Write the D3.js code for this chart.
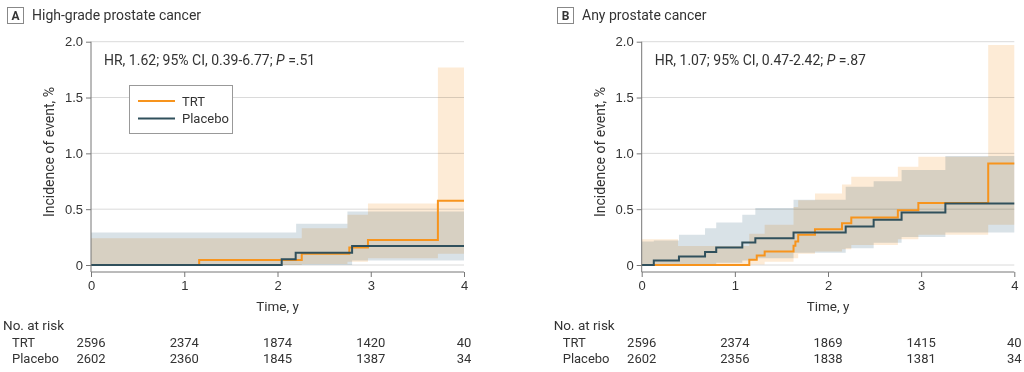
<!DOCTYPE html>
<html>
<head>
<meta charset="utf-8">
<script src="https://cdn.jsdelivr.net/npm/d3@7"></script>
<style>
  body { margin: 0; background: #fff; }
  svg { font-family: Roboto, "Noto Sans", sans-serif; }
  .tick text { fill: #333; font-size: 13px; }
  .tick line { stroke: #777; }
</style>
</head>
<body>
<div class="chart"></div>
<script>
const timeTicks = [0, 1, 2, 3, 4];
const yTicks = [0, 0.5, 1, 1.5, 2];
const yTickLabels = ["0", "0.5", "1.0", "1.5", "2.0"];

// panel A - high-grade prostate cancer, [time, incidence %]
const aTRT = [[0,0],[1.16,0.045],[2.26,0.10],[2.77,0.157],[2.97,0.224],[3.72,0.575],[4,0.575]];
const aPlacebo = [[0,0],[2.045,0.052],[2.195,0.11],[2.80,0.17],[4,0.17]];
// [time, lower, upper]
const aTRTci = [[0,0,0.24],[2.26,0.01,0.33],[2.75,0.03,0.45],[2.97,0.06,0.55],[3.72,0.10,1.77],[4,0.10,1.77]];
const aPlaceboCi = [[0,0,0.29],[2.2,0,0.37],[2.75,0,0.48],[2.8,0.04,0.48],[4,0.04,0.48]];

// panel B - any prostate cancer
const bTRT = [[0,0],[1.155,0.047],[1.235,0.085],[1.32,0.122],[1.63,0.172],[1.65,0.21],[1.68,0.27],[1.86,0.32],[2.15,0.375],[2.25,0.425],[2.75,0.49],[2.97,0.555],[3.72,0.91],[4,0.91]];
const bPlacebo = [[0,0],[0.13,0.041],[0.40,0.077],[0.68,0.116],[0.80,0.157],[1.08,0.202],[1.22,0.24],[1.63,0.29],[2.19,0.345],[2.49,0.405],[2.79,0.47],[3.26,0.55],[4,0.55]];
const bTRTci = [[0,0,0.23],[0.39,0,0.17],[1.155,0.005,0.28],[1.32,0.03,0.36],[1.63,0.06,0.52],[1.68,0.10,0.58],[1.86,0.12,0.64],[2.15,0.14,0.72],[2.25,0.18,0.79],[2.75,0.23,0.88],[2.97,0.27,0.97],[3.72,0.36,1.97],[4,0.36,1.97]];
const bPlaceboCi = [[0,0,0.21],[0.13,0,0.22],[0.40,0.005,0.27],[0.68,0.01,0.33],[0.80,0.02,0.38],[1.08,0.04,0.45],[1.22,0.06,0.51],[1.63,0.11,0.584],[2.19,0.15,0.70],[2.49,0.20,0.75],[2.79,0.25,0.85],[3.26,0.29,0.977],[4,0.29,0.977]];

// numbers at risk
const aRiskTRT = [2596, 2374, 1874, 1420, 40];
const aRiskPlacebo = [2602, 2360, 1845, 1387, 34];
const bRiskTRT = [2596, 2374, 1869, 1415, 40];
const bRiskPlacebo = [2602, 2356, 1838, 1381, 34];

const colTRT = "#f7941d";
const colPlacebo = "#30505c";
const fillTRT = "#fdebd6";
const fillPlacebo = "#d9e2e7";

const svg = d3.select(".chart").append("svg")
    .attr("width", 1024)
    .attr("height", 372);

const panels = [
    {letter: "A", title: "High-grade prostate cancer", left: 91, right: 464, boxX: 7,
     hr: ["HR, 1.62; 95% CI, 0.39-6.77; ", ".51"], legend: true,
     trt: aTRT, placebo: aPlacebo, trtCi: aTRTci, placeboCi: aPlaceboCi,
     riskTRT: aRiskTRT, riskPlacebo: aRiskPlacebo},
    {letter: "B", title: "Any prostate cancer", left: 641.7, right: 1014.3, boxX: 557,
     hr: ["HR, 1.07; 95% CI, 0.47-2.42; ", ".87"], legend: false,
     trt: bTRT, placebo: bPlacebo, trtCi: bTRTci, placeboCi: bPlaceboCi,
     riskTRT: bRiskTRT, riskPlacebo: bRiskPlacebo}
];

const axisY = 272;

panels.forEach(p => {
    const x = d3.scaleLinear().domain([0, 4]).range([p.left, p.right]);
    const y = d3.scaleLinear().domain([0, 2]).range([265, 41.7]);
    const g = svg.append("g");

    // header
    g.append("rect")
        .attr("x", p.boxX + 0.5).attr("y", 7.5)
        .attr("width", 16).attr("height", 16)
        .attr("fill", "#fff").attr("stroke", "#888");
    g.append("text")
        .attr("x", p.boxX + 8.5).attr("y", 20)
        .attr("text-anchor", "middle")
        .attr("font-size", 12).attr("font-weight", "bold").attr("fill", "#333")
        .text(p.letter);
    g.append("text")
        .attr("x", p.boxX + 25).attr("y", 20)
        .attr("font-size", 14).attr("fill", "#333")
        .text(p.title);

    // gridlines
    g.selectAll(".grid")
        .data(yTicks)
        .enter()
        .append("line")
        .attr("x1", p.left).attr("x2", p.right)
        .attr("y1", d => y(d)).attr("y2", d => y(d))
        .attr("stroke", "#dadada");

    // confidence bands
    const area = d3.area()
        .curve(d3.curveStepAfter)
        .x(d => x(d[0]))
        .y0(d => y(d[1]))
        .y1(d => y(d[2]));

    g.append("path").datum(p.placeboCi)
        .attr("d", area).attr("fill", fillPlacebo)
        .style("mix-blend-mode", "multiply");
    g.append("path").datum(p.trtCi)
        .attr("d", area).attr("fill", fillTRT)
        .style("mix-blend-mode", "multiply");

    // step lines
    const line = d3.line()
        .curve(d3.curveStepAfter)
        .x(d => x(d[0]))
        .y(d => y(d[1]));

    g.append("path").datum(p.trt)
        .attr("d", line).attr("fill", "none")
        .attr("stroke", colTRT).attr("stroke-width", 2);
    g.append("path").datum(p.placebo)
        .attr("d", line).attr("fill", "none")
        .attr("stroke", colPlacebo).attr("stroke-width", 2);

    // axes
    const yAxis = d3.axisLeft(y)
        .tickValues(yTicks)
        .tickSize(5)
        .tickPadding(3)
        .tickFormat((d, i) => yTickLabels[i]);
    const yG = g.append("g")
        .attr("transform", `translate(${p.left},0)`)
        .call(yAxis);
    yG.select(".domain").remove();

    const xAxis = d3.axisBottom(x)
        .tickValues(timeTicks)
        .tickSize(5)
        .tickPadding(4)
        .tickFormat(d3.format("d"));
    const xG = g.append("g")
        .attr("transform", `translate(0,${axisY})`)
        .call(xAxis);
    xG.select(".domain").remove();

    g.append("line")
        .attr("x1", p.left).attr("x2", p.left)
        .attr("y1", y(2)).attr("y2", axisY)
        .attr("stroke", "#777");
    g.append("line")
        .attr("x1", p.left).attr("x2", p.right)
        .attr("y1", axisY).attr("y2", axisY)
        .attr("stroke", "#777");

    // axis titles
    g.append("text")
        .attr("x", (p.left + p.right) / 2).attr("y", 311)
        .attr("text-anchor", "middle")
        .attr("font-size", 13.5).attr("fill", "#333")
        .text("Time, y");
    g.append("text")
        .attr("transform", `translate(${p.left - 37},${152}) rotate(-90)`)
        .attr("text-anchor", "middle")
        .attr("font-size", 14).attr("fill", "#333")
        .text("Incidence of event, %");

    // hazard ratio
    const hr = g.append("text")
        .attr("x", p.left + 13).attr("y", 65)
        .attr("font-size", 14).attr("fill", "#333");
    hr.append("tspan").text(p.hr[0]);
    hr.append("tspan").attr("font-style", "italic").text("P");
    hr.append("tspan").text(" =" + p.hr[1]);

    // legend
    if (p.legend) {
        const leg = g.append("g");
        leg.append("rect")
            .attr("x", 129.5).attr("y", 85.5)
            .attr("width", 103).attr("height", 48)
            .attr("fill", "#fff").attr("stroke", "#999");
        const items = [["TRT", colTRT], ["Placebo", colPlacebo]];
        leg.selectAll(".legLine")
            .data(items)
            .enter()
            .append("line")
            .attr("x1", 138).attr("x2", 175)
            .attr("y1", (d, i) => 101 + i * 17.5)
            .attr("y2", (d, i) => 101 + i * 17.5)
            .attr("stroke", d => d[1]).attr("stroke-width", 2);
        leg.selectAll(".legText")
            .data(items)
            .enter()
            .append("text")
            .attr("x", 182)
            .attr("y", (d, i) => 105.5 + i * 17.5)
            .attr("font-size", 13).attr("fill", "#333")
            .text(d => d[0]);
    }

    // number at risk table
    const tx = p.left - 88;
    g.append("text")
        .attr("x", tx).attr("y", 330)
        .attr("font-size", 13.5).attr("fill", "#333")
        .text("No. at risk");
    [["TRT", p.riskTRT, 347], ["Placebo", p.riskPlacebo, 363]].forEach(r => {
        g.append("text")
            .attr("x", tx + 9).attr("y", r[2])
            .attr("font-size", 13).attr("fill", "#333")
            .text(r[0]);
        g.selectAll(".risk" + r[0])
            .data(r[1])
            .enter()
            .append("text")
            .attr("x", (d, i) => x(timeTicks[i]))
            .attr("y", r[2])
            .attr("text-anchor", "middle")
            .attr("font-size", 13).attr("fill", "#333")
            .text(d => d);
    });
});
</script>
</body>
</html>
